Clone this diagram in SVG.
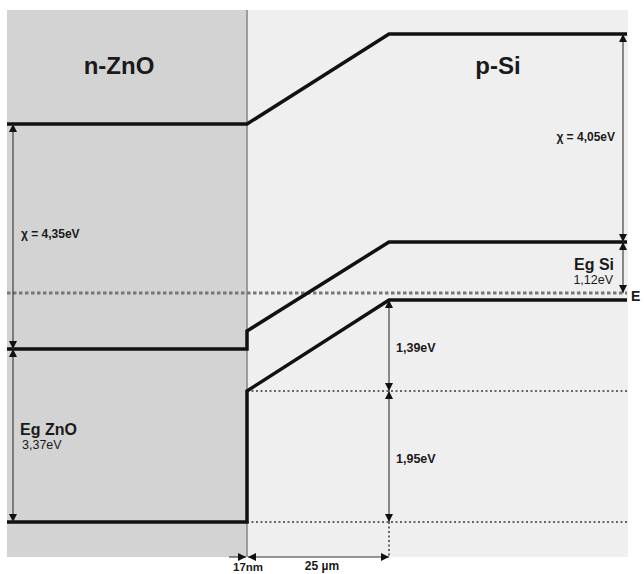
<svg xmlns="http://www.w3.org/2000/svg" width="644" height="574" viewBox="0 0 644 574">
<defs>
<marker id="ah" viewBox="0 0 10 10" refX="10" refY="5" markerWidth="8" markerHeight="8" markerUnits="userSpaceOnUse" orient="auto-start-reverse">
<path d="M0,0 L10,5 L0,10 Z" fill="#111"/>
</marker>
</defs>
<style>
.band{fill:none;stroke:#111;stroke-width:3.5;stroke-linejoin:miter}
.arr{fill:none;stroke:#333;stroke-width:1.1;marker-start:url(#ah);marker-end:url(#ah)}
.arr1{fill:none;stroke:#333;stroke-width:1.1;marker-end:url(#ah)}
.fermi{fill:none;stroke:#777;stroke-width:3;stroke-dasharray:3.5 2.5}
.dot{fill:none;stroke:#666;stroke-width:2;stroke-dasharray:2 2.5}
text{font-family:"Liberation Sans",Arial,sans-serif;fill:#1a1a1a}
.b{font-weight:bold}
</style>
<rect width="644" height="574" fill="#fff"/>
<g id="regions">
<rect id="zno" x="7" y="10" width="240" height="547" fill="#d3d3d3"/>
<rect id="si" x="247" y="10" width="381" height="547" fill="#efefef"/>
<line x1="247" y1="10" x2="247" y2="557" stroke="#8a8a8a" stroke-width="1.6"/>
</g>
<g id="levels">
<line class="fermi" x1="7" y1="293" x2="627" y2="293"/>
<line class="dot" x1="247" y1="391" x2="627" y2="391"/>
<line class="dot" x1="247" y1="522" x2="627" y2="522"/>
<line class="dot" x1="389" y1="522" x2="389" y2="557"/>
<polyline id="vacuum" class="band" points="7,124 247,124 389,34 627,34"/>
<polyline id="conduction" class="band" points="7,349 247,349 247,331 389,242 627,242"/>
<polyline id="valence" class="band" points="7,522 247,522 247,391 389,300 627,300"/>
</g>
<g id="connectors">
<line class="arr" x1="13" y1="124" x2="13" y2="349"/>
<line class="arr" x1="13" y1="349" x2="13" y2="522"/>
<line class="arr" x1="623" y1="34" x2="623" y2="242"/>
<line class="arr" x1="623" y1="242" x2="623" y2="293"/>
<line class="arr" x1="389" y1="300" x2="389" y2="391"/>
<line class="arr" x1="389" y1="391" x2="389" y2="522"/>
<line class="arr1" x1="229" y1="557" x2="246" y2="557"/>
<line class="arr" x1="248" y1="557" x2="389" y2="557"/>
</g>
<g id="labels">
<text class="b" x="119" y="74" font-size="24" text-anchor="middle">n-ZnO</text>
<text class="b" x="498" y="74" font-size="24" text-anchor="middle">p-Si</text>
<text class="b" x="21" y="238" font-size="12">χ = 4,35eV</text>
<text class="b" x="615" y="141" font-size="12" text-anchor="end">χ = 4,05eV</text>
<text class="b" x="20" y="435" font-size="16">Eg ZnO</text>
<text x="22" y="449" font-size="12.5">3,37eV</text>
<text class="b" x="614" y="270" font-size="16" text-anchor="end">Eg Si</text>
<text x="613" y="284" font-size="12.5" text-anchor="end">1,12eV</text>
<text class="b" x="631" y="301" font-size="14">E</text>
<text class="b" x="396" y="352" font-size="12.5">1,39eV</text>
<text class="b" x="396" y="463" font-size="12.5">1,95eV</text>
<text class="b" x="233" y="571" font-size="11.5">17nm</text>
<text class="b" x="322" y="570" font-size="12" text-anchor="middle">25 µm</text>
</g>
</svg>
